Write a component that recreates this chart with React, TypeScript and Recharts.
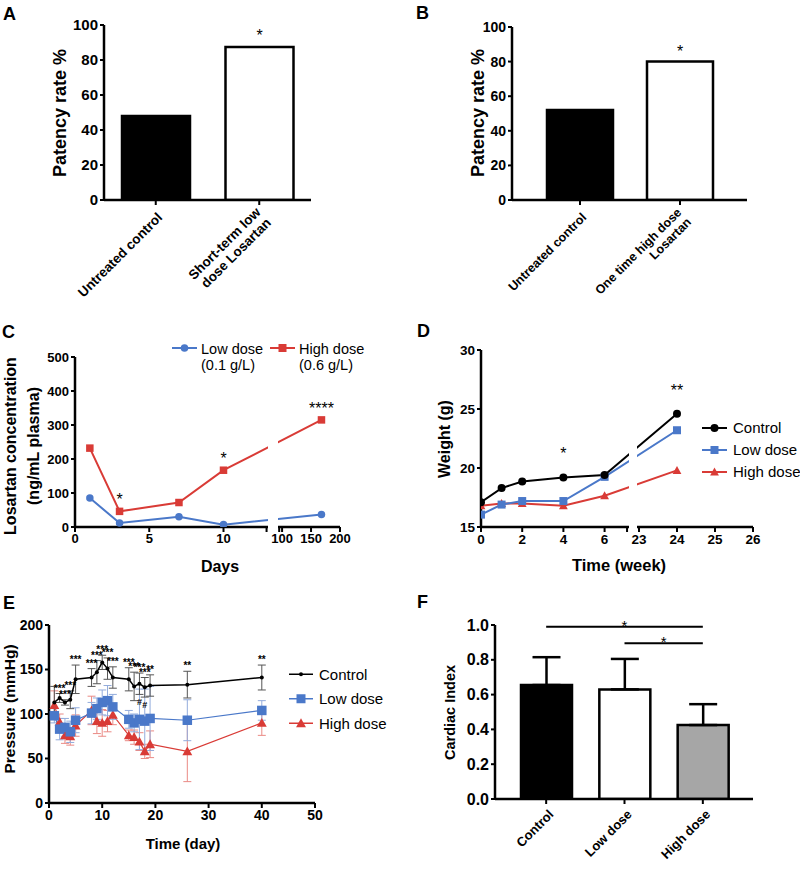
import React from 'react';
import {
  BarChart, Bar, Cell, XAxis, YAxis, LineChart, Line, ComposedChart,
  ErrorBar, ReferenceLine, LabelList, Legend,
} from 'recharts';

const FONT = '"Liberation Sans", Arial, Helvetica, sans-serif';
const BLUE = '#4a78c9';
const RED = '#d93b36';

// A: patency, short-term low dose
const aGroups = ['Untreated control', 'Short-term low dose Losartan'];
const aTickLines = [['Untreated control'], ['Short-term low', 'dose Losartan']];
const aPatency = [48, 87.5];
const aSig = ['', '*'];
const aFills = ['#000', '#fff'];

// B: patency, one time high dose
const bGroups = ['Untreated control', 'One time high dose Losartan'];
const bTickLines = [['Untreated control'], ['One time high dose', 'Losartan']];
const bPatency = [52, 80];
const bSig = ['', '*'];
const bFills = ['#000', '#fff'];

// C: plasma concentration
const cDays = [1, 3, 7, 10, 168];
const cLow = [85, 12, 30, 7, 37];
const cHigh = [232, 46, 72, 167, 315];
const cSig = ['', '*', '', '*', '****'];
const cTicksLeft = [0, 5, 10];
const cTicksRight = [100, 150, 200];
const cYTicks = [0, 100, 200, 300, 400, 500];

// D: weight
const dWeeks = [0, 1, 2, 4, 6, 24];
const dControl = [17.1, 18.3, 18.85, 19.2, 19.4, 24.6];
const dLow = [16.05, 16.9, 17.2, 17.2, 19.25, 23.2];
const dHigh = [16.8, 17.0, 17.0, 16.8, 17.65, 19.8];
const dSig = ['', '', '', '*', '', '**'];
const dTicksLeft = [0, 2, 4, 6];
const dTicksRight = [23, 24, 25, 26];
const dYTicks = [15, 20, 25, 30];

// E: blood pressure
const eDays = [1, 2, 3, 4, 5, 8, 9, 10, 11, 12, 15, 16, 17, 18, 19, 26, 40];
const eControl = [113, 118, 113, 116, 139, 141, 147, 158, 151, 141, 139, 131, 134, 130, 132, 133, 141];
const eControlErr = [18, 5, 3, 10, 16, 10, 13, 8, 12, 12, 13, 16, 12, 11, 12, 15, 14];
const eLow = [98, 83, 85, 80, 93, 101, 106, 113, 115, 108, 94, 90, 94, 92, 95, 93, 104];
const eLowErr = [8, 12, 10, 12, 14, 12, 12, 14, 17, 14, 10, 10, 34, 36, 36, 23, 11];
const eHigh = [110, 91, 76, 75, 87, 104, 92, 90, 92, 99, 76, 74, 69, 58, 66, 58, 90];
const eHighErr = [16, 9, 9, 10, 12, 16, 14, 15, 12, 11, 6, 8, 10, 8, 15, 34, 14];
const eSig = ['', '***', '***', '***', '***', '***', '***', '***', '***', '***', '***', '***', '***', '***', '**', '**', '**'];
const eHash = ['', '', '', '', '', '', '', '', '', '', '', '', '#', '#', '', '', ''];
const eXTicks = [0, 10, 20, 30, 40, 50];
const eYTicks = [0, 50, 100, 150, 200];

// F: cardiac index
const fGroups = ['Control', 'Low dose', 'High dose'];
const fIndex = [0.655, 0.63, 0.425];
const fErr = [0.16, 0.175, 0.12];
const fFills = ['#000', '#fff', '#a6a6a6'];
const fYTicks = [0, 0.2, 0.4, 0.6, 0.8, 1.0];

// broken axis helpers
const C_BREAK = 12.9;
const C_SEG2 = 13.75;
const toC = (d: number) => (d <= 13 ? d : C_SEG2 + (d - 95) * 0.039);
const D_BREAK = 7.09;
const D_SEG2 = 7.67;
const toD = (w: number) => (w <= 7.1 ? w : D_SEG2 + (w - 23) * 1.845);

const cTickMap = new Map<number, string>();
cTicksLeft.forEach((d) => cTickMap.set(toC(d), String(d)));
cTicksRight.forEach((d) => cTickMap.set(toC(d), String(d)));
const cTicks = [...cTicksLeft.map(toC), C_BREAK, C_SEG2, ...cTicksRight.map(toC)];

const dTickMap = new Map<number, string>();
dTicksLeft.forEach((w) => dTickMap.set(toD(w), String(w)));
dTicksRight.forEach((w) => dTickMap.set(toD(w), String(w)));
const dTicks = [...dTicksLeft.map(toD), D_BREAK, ...dTicksRight.map(toD)];

const aData = aGroups.map((group, i) => ({ group, patency: aPatency[i] }));
const bData = bGroups.map((group, i) => ({ group, patency: bPatency[i] }));
const cData = cDays.map((d, i) => ({ t: toC(d), low: cLow[i], high: cHigh[i] }));
const dData = dWeeks.map((w, i) => ({ t: toD(w), control: dControl[i], low: dLow[i], high: dHigh[i] }));
const eData = eDays.map((day, i) => ({
  day,
  control: eControl[i],
  controlErr: eControlErr[i],
  low: eLow[i],
  lowErr: eLowErr[i],
  high: eHigh[i],
  highErr: eHighErr[i],
  sigTop: eControl[i] + eControlErr[i],
  sigBottom: eControl[i] - eControlErr[i],
}));
const fData = fGroups.map((group, i) => ({ group, index: fIndex[i], err: [0, fErr[i]] }));

const axisLine = { stroke: '#000', strokeWidth: 2.5 };
const tickLine = { stroke: '#000', strokeWidth: 2 };
const tickFont = (size: number) => ({ fontSize: size, fontWeight: 'bold', fill: '#000', fontFamily: FONT });

const yTitle = (lines: string[], cx: number, cy: number, size: number, spacing = 1.2) => () => (
  <text transform={`translate(${cx},${cy}) rotate(-90)`} textAnchor="middle" fontFamily={FONT} fontWeight="bold" fontSize={size} fill="#000">
    {lines.map((l, i) => (
      <tspan key={l} x={0} dy={i === 0 ? `${0.35 - ((lines.length - 1) * spacing) / 2}em` : `${spacing}em`}>{l}</tspan>
    ))}
  </text>
);

const xTitle = (text: string, cx: number, baseline: number, size: number) => () => (
  <text x={cx} y={baseline} textAnchor="middle" fontFamily={FONT} fontWeight="bold" fontSize={size} fill="#000">{text}</text>
);

const CategoryTick = (props: any) => {
  const { x, y, payload, groups, lines, fontSize, dx = 4, dy = 8 } = props;
  const idx = groups.indexOf(payload.value);
  const ls: string[] = idx >= 0 ? lines[idx] : [String(payload.value)];
  const first = 0.35 - ((ls.length - 1) * 1.1) / 2;
  return (
    <g transform={`translate(${x + dx},${y + dy})`}>
      <text transform="rotate(-45)" textAnchor="end" fontFamily={FONT} fontWeight="bold" fontSize={fontSize} fill="#000">
        {ls.map((l, i) => (
          <tspan key={i} x={0} dy={i === 0 ? `${first}em` : '1.1em'}>{l}</tspan>
        ))}
      </text>
    </g>
  );
};

const starText = (sig: string[], size: number, gap: number, bold = false) => (p: any) => {
  const s = sig[p.index];
  if (!s || p.x == null || p.y == null) return null;
  const cx = p.x + (p.width || 0) / 2;
  return (
    <text key={`s${p.index}`} x={cx} y={p.y - gap} textAnchor="middle" fontFamily={FONT} fontWeight={bold ? 'bold' : 'normal'} fontSize={size} fill="#000">
      {s}
    </text>
  );
};

type Shape = 'circle' | 'square' | 'triangle';
const Marker = ({ shape, color, size }: { shape: Shape; color: string; size: number }) => {
  if (shape === 'circle') return <circle r={size / 2} fill={color} />;
  if (shape === 'square') return <rect x={-size / 2} y={-size / 2} width={size} height={size} fill={color} />;
  const h = size * 0.55;
  return <polygon points={`0,${-h} ${h},${h * 0.8} ${-h},${h * 0.8}`} fill={color} />;
};

const dotFn = (shape: Shape, color: string, size: number) => (p: any) => {
  if (p.cx == null || p.cy == null) return <g key={`d${p.index}`} />;
  return (
    <g key={`d${p.index}`} transform={`translate(${p.cx},${p.cy})`}>
      <Marker shape={shape} color={color} size={size} />
    </g>
  );
};

type LegendItem = { name: string; color: string; shape: Shape; size: number; sw: number };
const SeriesLegend = ({ items, fontSize, rowGap, lineLen }: { items: LegendItem[]; fontSize: number; rowGap: number; lineLen: number }) => (
  <svg width={110} height={items.length * rowGap} style={{ display: 'block' }}>
    {items.map((it, i) => (
      <g key={it.name} transform={`translate(0,${rowGap / 2 + i * rowGap})`}>
        <line x1={0} x2={lineLen} y1={0} y2={0} stroke={it.color} strokeWidth={it.sw} />
        <g transform={`translate(${lineLen / 2},0)`}>
          <Marker shape={it.shape} color={it.color} size={it.size} />
        </g>
        <text x={lineLen + 6} y={0} dy="0.35em" fontSize={fontSize} fontFamily={FONT} fill="#000">{it.name}</text>
      </g>
    ))}
  </svg>
);

const PanelLetter = ({ ch, x, baseline }: { ch: string; x: number; baseline: number }) => (
  <div style={{ position: 'absolute', left: x, top: baseline - 15.2, fontSize: 18, lineHeight: 1, fontWeight: 'bold', fontFamily: FONT }}>{ch}</div>
);

function PatencyChart(props: any) {
  const { data, groups, lines, fills, sig, width, margin, yWidth, tickSize, catSize, barSize, padding, yTitleAt, starGap } = props;
  return (
    <BarChart width={width} height={300} data={data} margin={margin}>
      <XAxis dataKey="group" height={100} axisLine={axisLine} tickLine={tickLine} tickSize={5} interval={0} padding={padding}
        tick={<CategoryTick groups={groups} lines={lines} fontSize={catSize} />} />
      <YAxis width={yWidth} domain={[0, 100]} ticks={[0, 20, 40, 60, 80, 100]} allowDataOverflow axisLine={axisLine}
        tickLine={tickLine} tickSize={4} tickMargin={2} interval={0} tick={tickFont(tickSize)}
        label={yTitle(['Patency rate %'], yTitleAt[0], yTitleAt[1], 18)} />
      <Bar dataKey="patency" barSize={barSize} stroke="#000" strokeWidth={2.5} isAnimationActive={false}>
        {data.map((_: any, i: number) => <Cell key={i} fill={fills[i]} />)}
        <LabelList dataKey="patency" content={starText(sig, 16, starGap)} />
      </Bar>
    </BarChart>
  );
}

function PanelC() {
  const kx = 265 / toC(200);
  return (
    <>
      <LineChart width={360} height={290} data={cData} margin={{ top: 57, right: 20, bottom: 23, left: 0 }}>
        <XAxis dataKey="t" type="number" domain={[0, toC(200)]} allowDataOverflow ticks={cTicks} interval={0}
          height={40} axisLine={axisLine} tickLine={tickLine} tickSize={5} tick={tickFont(13)}
          tickFormatter={(v: number) => cTickMap.get(v) ?? ''} label={xTitle('Days', 220, 272, 16)} />
        <YAxis width={75} domain={[0, 500]} ticks={cYTicks} allowDataOverflow interval={0} axisLine={axisLine}
          tickLine={tickLine} tickSize={4} tickMargin={2} tick={tickFont(13)}
          label={yTitle(['Losartan concentration', '(ng/mL plasma)'], 22, 146, 16, 1.4)} />
        <Line dataKey="low" stroke={BLUE} strokeWidth={2} dot={dotFn('circle', BLUE, 7.5)} activeDot={false} isAnimationActive={false} />
        <Line dataKey="high" stroke={RED} strokeWidth={2} dot={dotFn('square', RED, 7.5)} activeDot={false} isAnimationActive={false}>
          <LabelList dataKey="high" content={starText(cSig, 16, 6)} />
        </Line>
        <Legend layout="vertical" align="center" verticalAlign="middle" wrapperStyle={{ left: 170, top: 36, width: 200 }}
          content={() => (
            <svg width={200} height={45} style={{ display: 'block' }}>
              <line x1={2} x2={27} y1={12} y2={12} stroke={BLUE} strokeWidth={2} />
              <circle cx={14.5} cy={12} r={3.8} fill={BLUE} />
              <text x={31} y={18} fontSize={14.5} fontFamily={FONT}>Low dose</text>
              <text x={31} y={34} fontSize={14.5} fontFamily={FONT}>(0.1 g/L)</text>
              <line x1={100} x2={125} y1={12} y2={12} stroke={RED} strokeWidth={2} />
              <rect x={108.5} y={8} width={8} height={8} fill={RED} />
              <text x={129} y={18} fontSize={14.5} fontFamily={FONT}>High dose</text>
              <text x={129} y={34} fontSize={14.5} fontFamily={FONT}>(0.6 g/L)</text>
            </svg>
          )} />
      </LineChart>
      <div style={{ position: 'absolute', left: 75 + kx * C_BREAK + 1.5, top: 55, width: kx * (C_SEG2 - C_BREAK) - 3, height: 176, background: '#fff' }} />
    </>
  );
}

const dLegend: LegendItem[] = [
  { name: 'Control', color: '#000', shape: 'circle', size: 8, sw: 2 },
  { name: 'Low dose', color: BLUE, shape: 'square', size: 8, sw: 2 },
  { name: 'High dose', color: RED, shape: 'triangle', size: 8, sw: 2 },
];

function PanelD() {
  const kx = 272 / toD(26);
  return (
    <>
      <LineChart width={400} height={290} data={dData} margin={{ top: 50, right: 47, bottom: 23, left: 0 }}>
        <XAxis dataKey="t" type="number" domain={[0, toD(26)]} allowDataOverflow ticks={dTicks} interval={0}
          height={40} axisLine={axisLine} tickLine={tickLine} tickSize={5} tick={tickFont(13.5)}
          tickFormatter={(v: number) => dTickMap.get(v) ?? ''} label={xTitle('Time (week)', 219, 271, 16.5)} />
        <YAxis width={81} domain={[15, 30]} ticks={dYTicks} allowDataOverflow interval={0} axisLine={axisLine}
          tickLine={tickLine} tickSize={4} tickMargin={2} tick={tickFont(13.5)}
          label={yTitle(['Weight (g)'], 44, 139, 16)} />
        <Line dataKey="high" stroke={RED} strokeWidth={2} dot={dotFn('triangle', RED, 8)} activeDot={false} isAnimationActive={false} />
        <Line dataKey="low" stroke={BLUE} strokeWidth={2} dot={dotFn('square', BLUE, 8)} activeDot={false} isAnimationActive={false} />
        <Line dataKey="control" stroke="#000" strokeWidth={2} dot={dotFn('circle', '#000', 8)} activeDot={false} isAnimationActive={false}>
          <LabelList dataKey="control" content={starText(dSig, 16, 18)} />
        </Line>
        <Legend layout="vertical" align="center" verticalAlign="middle" wrapperStyle={{ left: 302, top: 117, width: 110 }}
          content={() => <SeriesLegend items={dLegend} fontSize={15} rowGap={22} lineLen={25} />} />
      </LineChart>
      <div style={{ position: 'absolute', left: 81 + kx * D_BREAK + 1.5, top: 48, width: kx * (D_SEG2 - D_BREAK) - 3, height: 183, background: '#fff' }} />
    </>
  );
}

const eLegend: LegendItem[] = [
  { name: 'Control', color: '#000', shape: 'circle', size: 4, sw: 1.5 },
  { name: 'Low dose', color: BLUE, shape: 'square', size: 9, sw: 1.5 },
  { name: 'High dose', color: RED, shape: 'triangle', size: 9, sw: 1.5 },
];

function PanelE() {
  return (
    <ComposedChart width={400} height={286} data={eData} margin={{ top: 35, right: 85, bottom: 33, left: 0 }}>
      <XAxis dataKey="day" type="number" domain={[0, 50]} allowDataOverflow ticks={eXTicks} interval={0}
        height={40} axisLine={axisLine} tickLine={tickLine} tickSize={5} tick={tickFont(14)}
        label={xTitle('Time (day)', 183, 259, 15)} />
      <YAxis width={49} domain={[0, 200]} ticks={eYTicks} allowDataOverflow interval={0} axisLine={axisLine}
        tickLine={tickLine} tickSize={4} tickMargin={2} tick={tickFont(14)}
        label={yTitle(['Pressure (mmHg)'], 10, 119, 15.5)} />
      <Line dataKey="high" stroke={RED} strokeWidth={1.2} dot={dotFn('triangle', RED, 9)} activeDot={false} isAnimationActive={false}>
        <ErrorBar dataKey="highErr" direction="y" width={4} stroke="#ea8a85" strokeWidth={1} />
      </Line>
      <Line dataKey="low" stroke={BLUE} strokeWidth={1.2} dot={dotFn('square', BLUE, 9.5)} activeDot={false} isAnimationActive={false}>
        <ErrorBar dataKey="lowErr" direction="y" width={4} stroke="#93acdc" strokeWidth={1} />
      </Line>
      <Line dataKey="control" stroke="#000" strokeWidth={1.5} dot={dotFn('circle', '#000', 4)} activeDot={false} isAnimationActive={false}>
        <ErrorBar dataKey="controlErr" direction="y" width={4} stroke="#555" strokeWidth={1} />
      </Line>
      <Line dataKey="sigTop" stroke="none" dot={false} activeDot={false} isAnimationActive={false}>
        <LabelList dataKey="sigTop" content={starText(eSig, 10, 2, true)} />
      </Line>
      <Line dataKey="sigBottom" stroke="none" dot={false} activeDot={false} isAnimationActive={false}>
        <LabelList dataKey="sigBottom" content={starText(eHash, 9, -11, true)} />
      </Line>
      <Legend layout="vertical" align="center" verticalAlign="middle" wrapperStyle={{ left: 289, top: 72, width: 110 }}
        content={() => <SeriesLegend items={eLegend} fontSize={15} rowGap={24.5} lineLen={24} />} />
    </ComposedChart>
  );
}

function PanelF() {
  return (
    <BarChart width={380} height={286} data={fData} margin={{ top: 35, right: 27, bottom: 0, left: 0 }}>
      <XAxis dataKey="group" height={77} axisLine={axisLine} tickLine={tickLine} tickSize={5} interval={0}
        padding={{ left: 12, right: 11 }}
        tick={<CategoryTick groups={fGroups} lines={fGroups.map((g) => [g])} fontSize={13} dx={5} dy={6} />} />
      <YAxis width={95} domain={[0, 1]} ticks={fYTicks} allowDataOverflow interval={0} axisLine={axisLine}
        tickLine={tickLine} tickSize={4} tickMargin={2} tick={tickFont(16)}
        tickFormatter={(v: number) => v.toFixed(1)}
        label={yTitle(['Cardiac Index'], 50, 122.5, 14.5)} />
      <Bar dataKey="index" barSize={51} stroke="#000" strokeWidth={2.5} isAnimationActive={false}>
        {fData.map((_, i) => <Cell key={i} fill={fFills[i]} />)}
        <ErrorBar dataKey="err" direction="y" width={14} stroke="#000" strokeWidth={2.5} />
      </Bar>
      <ReferenceLine segment={[{ x: 'Control', y: 0.99 }, { x: 'High dose', y: 0.99 }]} stroke="#000" strokeWidth={2}
        label={{ value: '*', position: 'top', offset: -4, fontSize: 15, fill: '#000', fontFamily: FONT }} />
      <ReferenceLine segment={[{ x: 'Low dose', y: 0.895 }, { x: 'High dose', y: 0.895 }]} stroke="#000" strokeWidth={2}
        label={{ value: '*', position: 'top', offset: -4, fontSize: 15, fill: '#000', fontFamily: FONT }} />
    </BarChart>
  );
}

export default function App() {
  return (
    <div style={{ position: 'absolute', left: 0, top: 0, width: 800, height: 876, background: '#fff', overflow: 'hidden', fontFamily: FONT }}>
      <div style={{ position: 'absolute', left: 0, top: 0 }}>
        <PatencyChart data={aData} groups={aGroups} lines={aTickLines} fills={aFills} sig={aSig} width={330}
          margin={{ top: 25, right: 19, bottom: 0, left: 0 }} yWidth={104} tickSize={15} catSize={13.5} barSize={68}
          padding={{ left: 0, right: 0 }} yTitleAt={[60, 113]} starGap={6} />
      </div>
      <div style={{ position: 'absolute', left: 400, top: 0 }}>
        <PatencyChart data={bData} groups={bGroups} lines={bTickLines} fills={bFills} sig={bSig} width={370}
          margin={{ top: 27, right: 23, bottom: 0, left: 0 }} yWidth={112} tickSize={14} catSize={12.5} barSize={66}
          padding={{ left: 18, right: 17 }} yTitleAt={[78, 113]} starGap={5} />
      </div>
      <div style={{ position: 'absolute', left: 0, top: 300 }}><PanelC /></div>
      <div style={{ position: 'absolute', left: 400, top: 300 }}><PanelD /></div>
      <div style={{ position: 'absolute', left: 0, top: 590 }}><PanelE /></div>
      <div style={{ position: 'absolute', left: 400, top: 590 }}><PanelF /></div>
      <PanelLetter ch="A" x={3} baseline={20} />
      <PanelLetter ch="B" x={416} baseline={19} />
      <PanelLetter ch="C" x={2} baseline={338} />
      <PanelLetter ch="D" x={417} baseline={337} />
      <PanelLetter ch="E" x={3} baseline={609} />
      <PanelLetter ch="F" x={417} baseline={608} />
    </div>
  );
}
